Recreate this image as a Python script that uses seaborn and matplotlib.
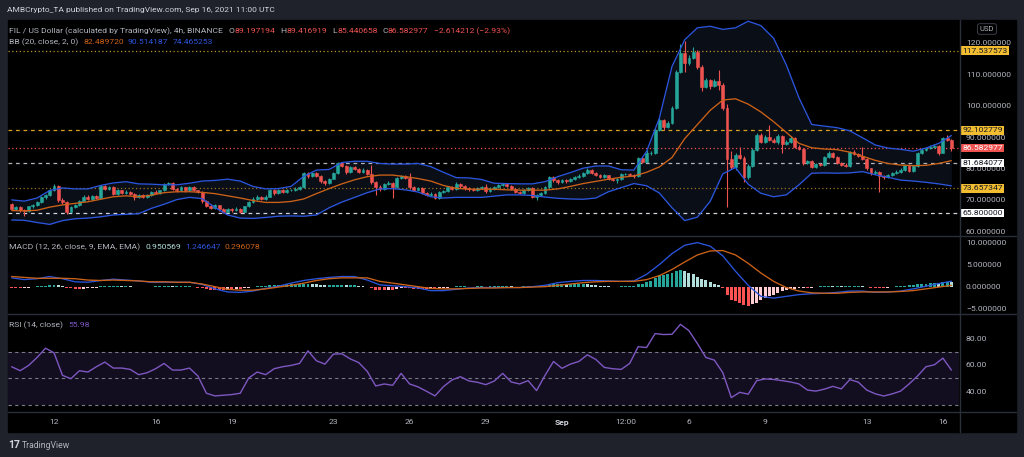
import matplotlib
matplotlib.use("Agg")
import matplotlib.pyplot as plt
import numpy as np
import pandas as pd
import seaborn as sns
from matplotlib.lines import Line2D
from matplotlib.patches import Rectangle
from matplotlib.ticker import FuncFormatter
from matplotlib.transforms import blended_transform_factory

# ---- data (FIL/USD 4h, Aug 10 08:00 .. Sep 16 08:00) ----
start = "2021-08-10 08:00"
first_open = 68.6
closes = [
    67.2, 67.6, 66.8, 66.5,                      # Aug 10
    67.9, 68.3, 69.4, 70.8, 71.6, 73.0,          # Aug 11
    74.3, 70.0, 69.3, 66.3, 67.6, 68.4,          # Aug 12
    69.8, 71.0, 70.3, 71.2, 70.6, 74.3,          # Aug 13
    73.6, 74.1, 71.8, 73.0, 72.3, 72.6,          # Aug 14
    72.0, 70.8, 71.6, 70.9, 71.5, 72.6,          # Aug 15
    72.3, 73.0, 75.0, 75.4, 73.5, 73.0,          # Aug 16
    74.0, 73.0, 74.0, 73.0, 72.5, 69.8,          # Aug 17
    68.2, 67.5, 68.3, 67.0, 66.3, 67.0,          # Aug 18
    66.7, 67.2, 66.2, 67.9, 69.2, 70.4,          # Aug 19
    71.0, 70.4, 71.0, 73.0, 72.2, 73.1,          # Aug 20
    72.6, 73.0, 73.2, 73.6, 74.0, 78.5,          # Aug 21
    77.5, 78.5, 77.6, 75.9, 75.4, 76.8,          # Aug 22
    78.6, 81.6, 80.8, 78.8, 80.5, 79.8,          # Aug 23
    79.0, 79.6, 78.4, 75.6, 74.2, 73.5,          # Aug 24
    75.0, 75.5, 74.0, 77.0, 77.6, 76.9,          # Aug 25
    74.0, 73.3, 73.8, 72.3, 71.5, 72.0,          # Aug 26
    70.7, 72.4, 72.8, 74.0, 73.4, 75.2,          # Aug 27
    74.3, 73.7, 73.4, 73.2, 73.7, 74.0,          # Aug 28
    72.7, 73.6, 74.0, 74.6, 75.0, 74.4,          # Aug 29
    73.6, 72.6, 72.3, 73.0, 73.8, 71.0,          # Aug 30
    71.5, 72.2, 74.1, 77.3, 76.2, 75.6,          # Aug 31
    76.4, 75.9, 76.6, 77.3, 77.7, 78.6,          # Sep 1
    79.6, 78.7, 78.0, 77.3, 77.8, 76.7,          # Sep 2
    76.4, 76.5, 78.2, 78.3, 78.0, 77.5,          # Sep 3
    83.3, 82.2, 84.9, 85.0, 92.3, 95.4,          # Sep 4
    93.1, 94.5, 99.3, 110.8, 116.8, 113.6,       # Sep 5
    115.2, 117.2, 112.4, 106.0, 108.2, 106.2,    # Sep 6
    108.0, 106.5, 99.3, 83.0, 80.6, 84.3,        # Sep 7
    83.5, 77.4, 80.8, 85.9, 90.7, 88.5,          # Sep 8
    90.0, 89.0, 88.5, 90.4, 87.8, 88.5,          # Sep 9
    89.8, 87.0, 86.2, 81.7, 82.3, 80.6,          # Sep 10
    81.4, 81.2, 83.6, 85.0, 83.6, 81.7,          # Sep 11
    81.2, 80.8, 85.3, 84.7, 84.0, 83.0,          # Sep 12
    80.0, 78.5, 79.0, 77.6, 77.2, 77.9,          # Sep 13
    78.5, 79.0, 79.6, 81.1, 79.3, 80.8,          # Sep 14
    84.8, 86.0, 86.5, 87.0, 87.3, 85.0,          # Sep 15
    89.7, 89.197194, 86.582977,                  # Sep 16
]
highs = [
    69.0, 68.0, 67.9, 67.1,
    68.2, 68.7, 69.7, 71.1, 72.0, 73.4,
    75.0, 74.6, 70.6, 69.6, 67.9, 68.8,
    70.1, 71.4, 71.4, 71.6, 71.5, 74.7,
    74.7, 74.5, 74.3, 73.4, 73.3, 73.0,
    72.9, 72.2, 71.9, 71.9, 71.8, 72.9,
    73.0, 73.3, 75.4, 75.8, 75.6, 73.9,
    74.4, 74.2, 74.3, 74.3, 73.3, 72.7,
    70.1, 68.6, 68.7, 68.5, 67.3, 67.4,
    67.3, 67.6, 67.4, 68.2, 69.6, 70.8,
    71.4, 71.3, 71.4, 73.4, 73.6, 73.5,
    73.4, 73.4, 73.6, 74.0, 74.4, 79.0,
    78.9, 78.9, 78.8, 77.9, 76.3, 77.1,
    78.9, 82.0, 81.9, 81.1, 80.9, 80.8,
    80.1, 80.0, 79.9, 81.1, 75.9, 74.6,
    75.4, 75.9, 75.8, 77.4, 78.0, 78.0,
    78.7, 74.3, 74.2, 74.1, 72.6, 72.4,
    72.3, 72.8, 73.2, 74.4, 74.3, 75.6,
    75.5, 74.6, 74.0, 73.7, 74.0, 74.4,
    75.0, 74.0, 74.3, 75.0, 75.4, 75.3,
    74.7, 73.9, 72.9, 73.4, 74.2, 74.1,
    71.9, 72.6, 74.5, 77.7, 77.6, 76.5,
    76.8, 76.7, 77.0, 77.7, 78.1, 79.0,
    80.0, 79.9, 79.0, 78.3, 78.2, 78.0,
    77.0, 76.9, 78.6, 78.7, 78.6, 78.3,
    83.8, 83.6, 86.0, 85.5, 92.8, 96.0,
    95.8, 95.0, 100.0, 111.5, 119.6, 120.7,
    116.0, 118.8, 117.6, 112.8, 108.8, 108.6,
    108.6, 111.4, 107.2, 100.5, 85.5, 85.0,
    86.9, 84.0, 81.4, 86.4, 91.3, 91.2,
    90.8, 93.9, 89.6, 90.9, 90.8, 89.0,
    90.3, 90.1, 87.6, 86.6, 82.8, 82.6,
    81.9, 81.8, 84.0, 85.5, 85.3, 83.9,
    82.0, 81.6, 85.7, 85.8, 85.0, 86.9,
    83.4, 80.3, 79.4, 79.3, 78.0, 78.3,
    78.9, 79.4, 80.0, 81.5, 81.4, 81.2,
    85.2, 86.4, 86.9, 87.6, 87.8, 87.6,
    90.1, 90.6, 89.416919,
]
lows = [
    66.9, 66.9, 66.3, 64.8,
    66.2, 67.5, 68.0, 69.1, 70.4, 71.3,
    72.8, 69.2, 68.8, 65.5, 66.0, 67.3,
    68.1, 69.5, 69.9, 70.0, 70.2, 70.3,
    73.2, 73.2, 71.4, 71.5, 71.9, 72.0,
    71.7, 70.1, 70.5, 70.5, 70.6, 71.2,
    71.9, 72.0, 72.7, 74.7, 73.1, 72.6,
    72.7, 72.6, 72.8, 72.7, 72.1, 69.0,
    67.8, 67.1, 67.2, 66.5, 65.8, 66.0,
    66.3, 66.4, 65.8, 66.0, 67.6, 68.9,
    70.1, 70.0, 70.1, 70.8, 71.7, 71.9,
    72.2, 72.3, 72.7, 72.9, 73.3, 73.8,
    77.1, 77.2, 77.2, 75.5, 74.9, 75.1,
    76.5, 78.3, 80.4, 78.4, 78.5, 79.4,
    78.6, 78.7, 78.0, 75.2, 71.6, 72.9,
    73.2, 74.7, 70.5, 73.7, 76.7, 76.5,
    73.6, 72.9, 73.0, 71.9, 71.1, 71.2,
    70.2, 70.4, 72.1, 72.5, 73.0, 73.1,
    73.9, 73.3, 72.7, 72.8, 72.9, 73.4,
    72.3, 72.4, 73.3, 73.7, 74.3, 74.0,
    73.2, 72.2, 71.9, 72.0, 72.7, 70.6,
    70.0, 71.2, 71.9, 73.8, 75.8, 75.2,
    75.3, 75.5, 75.6, 76.3, 77.0, 77.4,
    78.3, 78.3, 77.6, 76.9, 77.0, 76.3,
    76.0, 75.5, 76.2, 77.9, 77.6, 77.1,
    77.2, 81.6, 82.0, 84.3, 84.7, 92.0,
    92.4, 92.8, 94.2, 99.0, 110.4, 110.8,
    113.0, 114.8, 111.8, 104.8, 105.6, 105.4,
    105.8, 105.0, 98.6, 67.8, 79.8, 79.5,
    83.0, 75.8, 76.8, 80.4, 85.5, 88.0,
    88.1, 88.6, 88.0, 87.8, 84.9, 87.4,
    88.1, 86.6, 85.8, 81.2, 81.3, 80.1,
    80.3, 80.8, 80.9, 83.3, 83.2, 81.3,
    80.8, 80.4, 80.5, 84.3, 83.6, 82.6,
    79.5, 78.0, 78.1, 72.6, 76.8, 76.9,
    77.6, 78.2, 78.7, 79.3, 78.9, 79.0,
    80.5, 84.5, 85.6, 86.2, 86.6, 84.4,
    84.8, 88.8, 85.440658,
]

# Bollinger Bands (20, 2), MACD lines: one reading every 3rd candle
bb_upper = [
    70.0, 69.6, 70.6, 73.0, 73.8, 73.5, 73.5, 74.6, 75.4, 75.8,
    75.1, 75.0, 74.8, 74.8, 75.3, 76.0, 76.2, 76.6, 76.0, 74.3,
    73.5, 73.6, 74.3, 77.5, 79.5, 79.7, 81.9, 82.3, 82.3, 81.6,
    81.4, 81.4, 81.6, 80.6, 78.8, 77.1, 77.0, 76.5, 75.3, 75.2,
    75.1, 75.1, 75.8, 77.4, 78.7, 80.1, 80.8, 80.8, 79.6, 79.5,
    85.5, 96.0, 112.5, 121.0, 124.8, 125.3, 124.3, 124.8, 126.9, 125.5,
    121.5, 113.0, 102.5, 94.0, 93.5, 93.0, 92.0, 89.8, 87.5, 86.5,
    86.1, 85.5, 86.5, 88.0, 90.514187,
]
bb_basis = [
    66.6, 66.5, 66.7, 67.7, 68.4, 68.9, 69.4, 70.2, 71.0, 71.3,
    71.0, 71.5, 72.3, 72.6, 72.6, 72.4, 72.0, 71.3, 70.6, 69.8,
    69.2, 69.2, 69.5, 70.3, 72.0, 73.6, 75.1, 76.4, 77.4, 77.9,
    77.9, 77.4, 76.8, 76.0, 74.6, 73.7, 73.4, 73.4, 73.4, 73.2,
    73.1, 73.1, 73.1, 73.5, 74.3, 75.2, 75.9, 76.6, 77.2, 77.6,
    78.8, 80.5, 83.5, 89.5, 94.0, 98.5, 101.8, 102.2, 100.5, 98.0,
    94.9, 91.5, 88.0, 86.6, 86.2, 86.0, 85.2, 83.9, 82.6, 81.6,
    81.1, 80.9, 81.0, 81.6, 82.489720,
]
bb_lower = [
    63.6, 63.5, 62.8, 62.2, 63.4, 64.0, 64.2, 64.6, 65.2, 65.4,
    65.6, 67.3, 68.6, 70.1, 70.8, 70.4, 67.6, 65.2, 64.2, 64.1,
    64.4, 64.8, 64.9, 64.8, 65.2, 67.5, 69.3, 70.8, 72.3, 73.5,
    73.6, 73.2, 72.5, 71.0, 70.6, 70.8, 70.8, 70.8, 71.2, 71.6,
    71.6, 71.4, 70.9, 70.5, 70.3, 70.2, 70.6, 72.6, 73.9, 75.2,
    74.5, 72.2, 67.5, 63.4, 64.5, 69.5, 78.3, 80.3, 75.0, 72.1,
    71.0, 71.6, 74.8, 78.5, 78.6, 78.5, 78.6, 79.0, 78.0, 77.2,
    76.3, 76.0, 75.6, 75.1, 74.465253,
]
macd_line = [
    2.0, 1.6, 1.8, 2.3, 1.8, 1.1, 1.0, 1.4, 1.7, 1.5,
    1.3, 1.0, 1.0, 1.0, 1.0, 0.5, -0.5, -1.2, -1.3, -1.0,
    -0.4, 0.1, 0.8, 1.4, 1.8, 2.1, 2.3, 2.3, 1.5, 0.4,
    0.2, 0.0, -0.3, -0.9, -0.9, -0.6, -0.3, -0.2, -0.2, -0.2,
    -0.2, 0.0, 0.3, 0.9, 1.2, 1.4, 1.4, 1.3, 1.2, 1.3,
    2.8, 5.0, 7.5, 9.4, 10.0, 9.2, 7.0, 3.5, 0.3, -2.2,
    -2.6, -2.2, -1.8, -1.6, -1.5, -1.3, -1.0, -1.0, -1.3, -1.2,
    -1.0, -0.5, 0.1, 0.7, 1.246647,
]
signal_line = [
    2.3, 2.1, 1.9, 1.9, 1.9, 1.8, 1.5, 1.4, 1.5, 1.4,
    1.3, 1.1, 1.1, 1.0, 1.0, 0.6, 0.0, -0.6, -0.8, -0.8,
    -0.5, -0.1, 0.3, 0.8, 1.4, 1.8, 2.0, 2.0, 2.0, 1.2,
    0.8, 0.4, 0.0, -0.4, -0.5, -0.5, -0.4, -0.3, -0.3, -0.2,
    -0.2, -0.1, 0.0, 0.3, 0.6, 0.9, 1.1, 1.2, 1.2, 1.2,
    1.6, 2.5, 3.9, 5.6, 7.2, 8.1, 8.2, 7.2, 5.3, 3.1,
    1.2, -0.2, -1.0, -1.4, -1.5, -1.5, -1.3, -1.2, -1.2, -1.2,
    -1.1, -0.9, -0.5, -0.1, 0.296078,
]
# MACD histogram, one bar per candle
macd_hist = [
    -0.3, -0.4, -0.4, -0.3,
    -0.2, -0.1, 0.05, 0.1, 0.2, 0.3,
    0.4, 0.3, 0.1, -0.2, -0.4, -0.5,
    -0.6, -0.5, -0.4, -0.3, -0.2, 0.05,
    0.1, 0.2, 0.2, 0.2, 0.1, 0.1,
    0.05, -0.1, -0.1, -0.1, -0.1, -0.05,
    0.05, 0.05, 0.1, 0.1, 0.05, 0.05,
    0.05, 0.05, 0.05, -0.1, -0.2, -0.4,
    -0.6, -0.7, -0.7, -0.8, -0.8, -0.7,
    -0.7, -0.6, -0.6, -0.4, -0.3, -0.1,
    0.05, 0.1, 0.2, 0.3, 0.3, 0.4,
    0.4, 0.5, 0.5, 0.5, 0.5, 0.7,
    0.7, 0.6, 0.5, 0.4, 0.3, 0.3,
    0.3, 0.4, 0.4, 0.3, 0.3, 0.3,
    0.2, 0.1, -0.1, -0.4, -0.7, -0.8,
    -0.8, -0.7, -0.7, -0.5, -0.4, -0.4,
    -0.4, -0.5, -0.5, -0.6, -0.6, -0.5,
    -0.5, -0.4, -0.3, -0.2, -0.1, 0.05,
    0.05, 0.05, -0.05, -0.05, 0.05, 0.05,
    -0.1, 0.05, 0.05, 0.1, 0.1, 0.1,
    0.05, -0.05, -0.05, 0.05, 0.1, -0.1,
    -0.1, 0.05, 0.2, 0.6, 0.7, 0.7,
    0.7, 0.6, 0.6, 0.6, 0.6, 0.6,
    0.5, 0.4, 0.3, 0.2, 0.1, 0.05,
    -0.05, -0.1, 0.05, 0.1, 0.1, 0.1,
    0.6, 0.7, 1.0, 1.2, 2.0, 2.6,
    2.7, 2.8, 3.1, 3.6, 3.8, 3.6,
    3.2, 2.9, 2.3, 1.8, 1.4, 1.0,
    0.7, 0.3, -0.4, -2.0, -3.0, -3.3,
    -3.6, -4.2, -4.3, -4.0, -3.6, -3.1,
    -2.6, -2.2, -1.8, -1.4, -1.0, -0.8,
    -0.6, -0.5, -0.4, -0.3, -0.3, -0.2,
    -0.1, 0.05, 0.1, 0.2, 0.1, 0.1,
    0.05, 0.05, 0.1, 0.1, 0.1, 0.05,
    -0.1, -0.2, -0.2, -0.3, -0.3, -0.2,
    -0.1, 0.05, 0.1, 0.2, 0.3, 0.3,
    0.5, 0.6, 0.7, 0.8, 0.9, 0.8,
    1.0, 1.1, 0.950569,
]
# RSI(14), one reading every 2nd candle
rsi = [
    58.5, 55.5, 59.5, 65.5, 72.5, 69.0, 52.0, 49.5, 55.5, 54.5,
    58.5, 62.0, 57.5, 57.5, 56.5, 52.5, 54.0, 57.0, 61.0, 56.0,
    56.0, 57.5, 51.5, 38.5, 36.5, 37.0, 37.5, 38.5, 50.0, 54.5,
    52.5, 57.0, 58.5, 59.5, 61.0, 70.5, 63.0, 60.5, 68.0, 68.3,
    64.4, 61.6, 55.0, 44.0, 45.5, 44.5, 53.5, 45.5, 43.3, 40.0,
    36.5, 43.5, 48.5, 51.0, 47.8, 46.8, 45.0, 47.7, 53.5, 47.0,
    45.5, 48.0, 40.5, 52.0, 62.5, 57.3, 60.5, 62.5, 67.5, 64.0,
    58.0, 57.0, 56.5, 61.0, 73.6, 73.0, 83.5, 82.8, 83.0, 90.5,
    85.7, 76.0, 65.5, 63.5, 54.0, 35.2, 39.2, 37.8, 48.0, 49.3,
    48.9, 48.0, 47.0, 45.5, 40.9, 40.1, 41.6, 43.7, 41.8, 48.8,
    46.9, 40.9, 38.1, 36.4, 38.0, 40.1, 45.5, 51.5, 58.5, 60.0,
    65.0, 55.98,
]
# horizontal levels drawn on the chart
level_values = [117.537573, 92.102779, 86.582977, 81.684077, 73.657347, 65.8]
level_labels = ["117.537573", "92.102779", "86.582977", "81.684077", "73.657347", "65.800000"]
# time scale
tick_dates = ["2021-08-12", "2021-08-16", "2021-08-19", "2021-08-23", "2021-08-26",
              "2021-08-29", "2021-09-01", "2021-09-03 12:00", "2021-09-06",
              "2021-09-09", "2021-09-13", "2021-09-16"]
tick_labels = ["12", "16", "19", "23", "26", "29", "Sep", "12:00", "6", "9", "13", "16"]

# ---- style ----
PAGE = "#1f222a"
SEP = "#2a2e39"
TXT = "#b2b5be"
UP, DN = "#26a69a", "#ef5350"
BLUE, ORANGE = "#2b55dc", "#cc6218"

sns.set_theme(style="dark", rc={"axes.facecolor": "none", "figure.facecolor": PAGE,
                                "axes.grid": False})
plt.rcParams["font.family"] = ["Roboto", "DejaVu Sans"]
FS = 6.1

W, H = 1024, 457
fig = plt.figure(figsize=(W / 100, H / 100), dpi=100, facecolor=PAGE)


def fx(px):
    return px / W


def fy(py):
    return 1 - py / H


fig.patches.append(Rectangle((fx(8), fy(432)), fx(1016) - fx(8), fy(20) - fy(432),
                             transform=fig.transFigure, color="black", zorder=-5))

t0 = pd.Timestamp(start)
idx = np.arange(len(closes))
XL = (-0.87, 223.8)
LEFT, RIGHT = 8, 959


def add_panel(top, bottom):
    ax = fig.add_axes([fx(LEFT), fy(bottom), fx(RIGHT) - fx(LEFT), fy(top) - fy(bottom)])
    ax.set_facecolor("none")
    for s in ax.spines.values():
        s.set_visible(False)
    ax.set_xlim(*XL)
    ax.set_xticks([])
    ax.yaxis.tick_right()
    ax.tick_params(axis="y", length=0, pad=5, colors=TXT, labelsize=FS)
    return ax


ax_p = add_panel(20, 235)
ax_m = add_panel(236, 313)
ax_r = add_panel(314, 411)

# ---- price panel ----
c = np.array(closes)
o = np.r_[first_open, c[:-1]]
col = np.where(c >= o, UP, DN)
step3 = idx[::3]
ax_p.fill_between(step3, bb_lower, bb_upper, color="#0a0e17", lw=0, zorder=0.5)
ax_p.vlines(idx, lows, highs, colors=col, linewidth=0.8, zorder=2)
ax_p.bar(idx, c - o, bottom=o, width=0.68, color=col, edgecolor=col, linewidth=0.4, zorder=2)
sns.lineplot(x=step3, y=bb_upper, ax=ax_p, color=BLUE, linewidth=0.95, zorder=3)
sns.lineplot(x=step3, y=bb_lower, ax=ax_p, color=BLUE, linewidth=0.95, zorder=3)
sns.lineplot(x=step3, y=bb_basis, ax=ax_p, color=ORANGE, linewidth=0.95, zorder=3)

lv_style = [("#b8952a", (0, (1, 2)), "#f2bd30", "#131722"),
            ("#d9a21b", (0, (3, 3)), "#f2bd30", "#131722"),
            ("#ef5350", (0, (1, 2)), "#ef5350", "white"),
            ("#b2b5be", (0, (3, 3)), "white", "#131722"),
            ("#9a7420", (0, (1, 2)), "#f2bd30", "#131722"),
            ("#d1d4dc", (0, (3, 3)), "white", "#131722")]
tr = blended_transform_factory(ax_p.transAxes, ax_p.transData)
for v, lab, (lc, ls, fc, tc) in zip(level_values, level_labels, lv_style):
    ax_p.axhline(v, color=lc, lw=0.9, ls=ls, zorder=1.5)
    ax_p.text(1.0035, v, lab, transform=tr, ha="left", va="center", fontsize=FS, color=tc,
              bbox=dict(boxstyle="square,pad=0.15", fc=fc, ec="none"), zorder=6, clip_on=False)

ax_p.set_ylim(58.82, 127.29)
ax_p.set_yticks([60, 70, 80, 90, 100, 110, 120])
ax_p.yaxis.set_major_formatter(FuncFormatter(lambda v, p: f"{v:.6f}"))

# ---- MACD panel ----
h = np.array(macd_hist)
prev = np.r_[h[0], h[:-1]]
hcol = np.where(h >= 0, np.where(h >= prev, "#26a69a", "#b2dfdb"),
                np.where(h <= prev, "#ff5252", "#ffcdd2"))
ax_m.bar(idx, h, width=0.7, color=hcol, linewidth=0)
sns.lineplot(x=step3, y=macd_line, ax=ax_m, color=BLUE, linewidth=0.95)
sns.lineplot(x=step3, y=signal_line, ax=ax_m, color=ORANGE, linewidth=0.95)
ax_m.set_ylim(-5.98, 11.5)
ax_m.set_yticks([-5, 0, 5, 10])
ax_m.yaxis.set_major_formatter(FuncFormatter(lambda v, p: f"{v:.6f}".replace("-", "\u2212")))

# ---- RSI panel ----
step2 = idx[::2]
ax_r.axhspan(30, 70, color="#120e1f", lw=0, zorder=0)
for v in (30, 50, 70):
    ax_r.axhline(v, color="#787b86", lw=0.8, ls=(0, (3, 3)), zorder=1)
sns.lineplot(x=step2, y=rsi, ax=ax_r, color="#7e57c2", linewidth=1)
ax_r.set_ylim(25.1, 98.3)
ax_r.set_yticks([40, 60, 80])
ax_r.yaxis.set_major_formatter(FuncFormatter(lambda v, p: f"{v:.2f}"))

for ax in (ax_p, ax_m, ax_r):
    ax.set_xlim(*XL)
    ax.set_xticks([])
    ax.set_xlabel("")
    ax.set_ylabel("")

# ---- separators ----
for py in (235.5, 313.5, 411.5):
    fig.add_artist(Line2D([fx(8), fx(1016)], [fy(py), fy(py)], transform=fig.transFigure,
                          color=SEP, lw=1))
fig.add_artist(Line2D([fx(959.5), fx(959.5)], [fy(20), fy(432)], transform=fig.transFigure,
                      color=SEP, lw=1))

# ---- time scale ----
span = XL[1] - XL[0]
for d, lab in zip(tick_dates, tick_labels):
    pos = (pd.Timestamp(d) - t0) / pd.Timedelta("4h")
    px = LEFT + (pos - XL[0]) / span * (RIGHT - LEFT)
    fig.text(fx(px), fy(422), lab, ha="center", va="center", fontsize=FS,
             color="#d1d4dc" if lab == "Sep" else TXT,
             fontweight="bold" if lab == "Sep" else "normal")

# ---- legends / headers ----
renderer = fig.canvas.get_renderer()


def put_row(x, y, parts, size=FS, weight="normal"):
    for s, color, gap in parts:
        t = fig.text(fx(x), fy(y), s, color=color, fontsize=size, ha="left", va="center",
                     fontweight=weight)
        x += t.get_window_extent(renderer=renderer).width + gap


put_row(7, 10, [("AMBCrypto_TA published on TradingView.com, Sep 16, 2021 11:00 UTC", "#d1d4dc", 0)],
        size=6.0)
put_row(9, 31, [("FIL / US Dollar (calculated by TradingView), 4h, BINANCE", TXT, 6),
                ("O", TXT, 0), ("89.197194", DN, 5), ("H", TXT, 0), ("89.416919", DN, 5),
                ("L", TXT, 0), ("85.440658", DN, 5), ("C", TXT, 0), ("86.582977", DN, 5),
                ("\u22122.614212 (\u22122.93%)", DN, 0)])
put_row(9, 42, [("BB (20, close, 2, 0)", TXT, 5), ("82.489720", ORANGE, 4),
                ("90.514187", BLUE, 4), ("74.465253", BLUE, 0)])
put_row(9, 247, [("MACD (12, 26, close, 9, EMA, EMA)", TXT, 5), ("0.950569", "#b2dfdb", 4),
                 ("1.246647", BLUE, 4), ("0.296078", ORANGE, 0)])
put_row(9, 325, [("RSI (14, close)", TXT, 5), ("55.98", "#7e57c2", 0)])

fig.text(fx(987), fy(29), "USD", ha="center", va="center", fontsize=5.5, color=TXT,
         bbox=dict(boxstyle="round,pad=0.3", fc="black", ec="#434651", lw=0.6))
put_row(8, 445, [("17", "#d1d4dc", 3)], size=7.5, weight="bold")
put_row(22, 445, [("TradingView", "#b2b5be", 0)], size=6.2)

fig.savefig("out.png", dpi=100, facecolor=PAGE)
